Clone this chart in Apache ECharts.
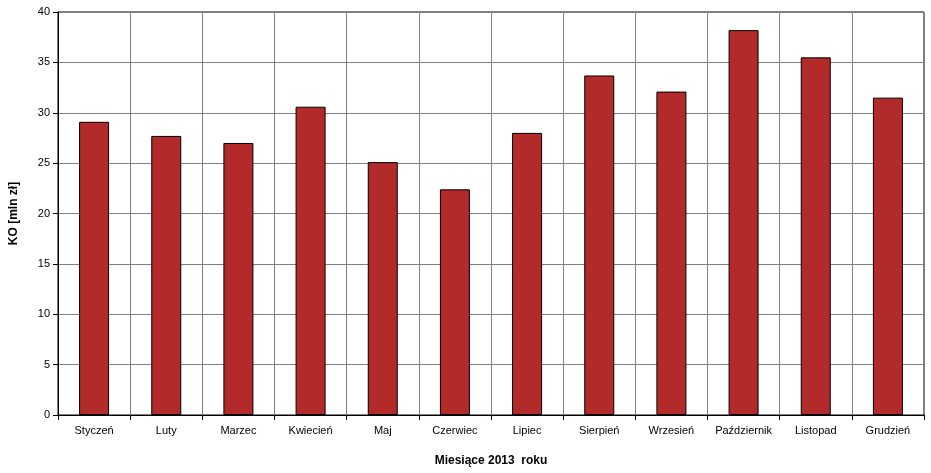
<!DOCTYPE html>
<html><head><meta charset="utf-8">
<script src="https://cdn.jsdelivr.net/npm/echarts@6/dist/echarts.min.js"></script>
<style>html,body{margin:0;padding:0;background:#fff}#c{width:931px;height:473px}</style>
</head><body><div id="c"></div>
<script>
const categories=['Styczeń','Luty','Marzec','Kwiecień','Maj','Czerwiec','Lipiec','Sierpień','Wrzesień','Październik','Listopad','Grudzień'];
const values=[29.1,27.7,27.0,30.6,25.1,22.4,28.0,33.7,32.1,38.2,35.5,31.5];
const chart=echarts.init(document.getElementById('c'));
const font='Liberation Sans, Arial, sans-serif';
chart.setOption({
  animation:false,
  grid:{left:57,right:7,top:12,bottom:58,show:true,borderColor:'#000',borderWidth:1},
  xAxis:{type:'category',data:categories,
    name:'Miesiące 2013  roku',nameLocation:'middle',nameGap:40,
    nameTextStyle:{fontFamily:font,fontSize:12,fontWeight:'bold',color:'#000'},
    axisLine:{lineStyle:{color:'#000'}},
    axisTick:{show:true,alignWithLabel:false,lineStyle:{color:'#000'}},
    axisLabel:{fontFamily:font,fontSize:11,color:'#000',interval:0,margin:10},
    splitLine:{show:true,lineStyle:{color:'#808080',width:1}}},
  yAxis:{type:'value',min:0,max:40,interval:5,
    name:'KO [mln zł]',nameLocation:'middle',nameGap:38,
    nameTextStyle:{fontFamily:font,fontSize:12,fontWeight:'bold',color:'#000'},
    axisLine:{show:true,lineStyle:{color:'#000'}},
    axisTick:{show:true,lineStyle:{color:'#000'}},
    axisLabel:{fontFamily:font,fontSize:11,color:'#000'},
    splitLine:{show:true,lineStyle:{color:'#808080',width:1}}},
  series:[{type:'bar',data:values,barWidth:30,
    itemStyle:{color:'#B22A2A',borderColor:'#000',borderWidth:1}}]
});
</script></body></html>
